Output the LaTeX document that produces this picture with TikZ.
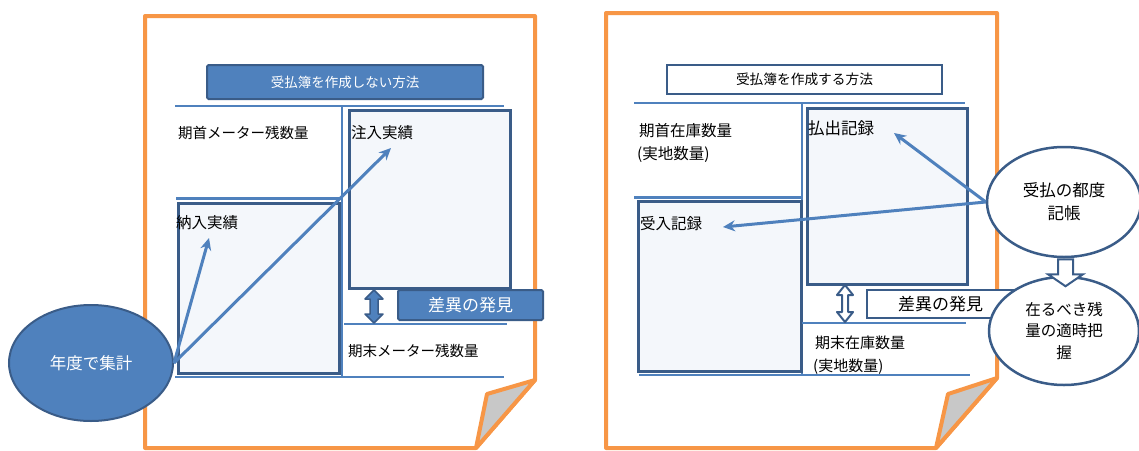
\documentclass[tikz,border=0pt]{standalone}
\usepackage{fontspec}
\setmainfont{Noto Sans CJK JP}
\usetikzlibrary{shapes.geometric,arrows.meta}
\definecolor{accent}{HTML}{4F81BD}
\definecolor{dk}{HTML}{3A5C88}
\definecolor{org}{HTML}{F79646}
\definecolor{pale}{HTML}{F4F7FB}
\definecolor{foldgray}{HTML}{C8C8C8}
\tikzset{
  page/.style={draw=org, line width=4pt, fill=white, line join=round},
  fold/.style={draw=org, line width=4pt, fill=foldgray, line join=round},
  rule/.style={draw=accent, line width=2pt},
  panel/.style={draw=dk, line width=2.5pt, fill=pale, inner sep=0pt, anchor=north west},
  bluebox/.style={draw=dk, line width=2pt, fill=accent, text=white, rounded corners=1.5pt, inner sep=0pt},
  whitebox/.style={draw=dk, line width=2.5pt, fill=white, text=black, inner sep=0pt},
  lbl/.style={anchor=west, inner sep=0pt, font=\fontsize{14.5}{17}\selectfont},
  flow/.style={draw=accent, line width=3pt, -{Stealth[length=12pt,width=11pt]}},
}
\begin{document}
\begin{tikzpicture}[x=1pt,y=-1pt]
\useasboundingbox (0,0) rectangle (1139,450);
% ---------- left page ----------
\draw[page] (145,16) -- (535,16) -- (535,380) -- (476,448) -- (145,448) -- cycle;
\draw[fold] (535,380) -- (487,394) -- (476,448) -- cycle;
\node[bluebox, minimum width=276pt, minimum height=34pt, font=\fontsize{13.5}{16}\selectfont] (t1) at (345,82) {受払簿を作成しない方法};
\draw[rule] (175,106) -- (504,106);
\draw[rule] (342,106) -- (342,377);
\node[panel, minimum width=161pt, minimum height=178pt] (inj) at (348,109) {};
\draw[rule, line width=3pt] (176,198) -- (340,198);
\node[panel, minimum width=161pt, minimum height=170pt] (nou) at (177,202) {};
\draw[rule] (175,377) -- (504,377);
\draw[rule] (344,324) -- (507,324);
\node[lbl] (l1) at (178,133) {期首メーター残数量};
\node[lbl, font=\fontsize{15.5}{18}\selectfont] (l2) at (351,133) {注入実績};
\node[lbl, font=\fontsize{15.5}{18}\selectfont] (l3) at (176,223) {納入実績};
\node[lbl] (l4) at (348,351) {期末メーター残数量};
\draw[fill=accent, draw=dk, line width=1.5pt, line join=round]
  (374,290) -- (383,299) -- (378,299) -- (378,314) -- (383,314) -- (374,323)
  -- (365,314) -- (370,314) -- (370,299) -- (365,299) -- cycle;
\node[bluebox, minimum width=145pt, minimum height=30pt, font=\fontsize{17}{20}\selectfont] (d1) at (470.5,305) {差異の発見};
\node[ellipse, draw=dk, line width=2pt, fill=accent, text=white, minimum width=164pt, minimum height=116pt, inner sep=0pt, font=\fontsize{16.5}{19}\selectfont] (e1) at (91,363) {年度で集計};
\coordinate (tip1) at (209,238);
\coordinate (tip2) at (391,148);
\draw[flow] (e1.east) -- (tip1);
\draw[flow] (e1.east) -- (tip2);
% ---------- right page ----------
\draw[page] (606,13) -- (997,13) -- (997,378) -- (936,448) -- (606,448) -- cycle;
\draw[fold] (997,378) -- (948,394) -- (936,448) -- cycle;
\node[whitebox, minimum width=275pt, minimum height=29pt, font=\fontsize{13.7}{16}\selectfont] (t2) at (804.5,79.5) {受払簿を作成する方法};
\draw[rule] (634,103) -- (965,103);
\draw[rule] (802,103) -- (802,375);
\node[panel, minimum width=160pt, minimum height=176pt] (hara) at (806,107) {};
\draw[rule, line width=3pt] (634,197) -- (802,197);
\node[panel, minimum width=163pt, minimum height=170pt] (uke) at (637,200) {};
\draw[rule] (639,375) -- (970,375);
\draw[rule] (802,323) -- (966,323);
\node[lbl, font=\fontsize{15.5}{18}\selectfont] (r1) at (639,131) {期首在庫数量};
\node[lbl, font=\fontsize{15.5}{18}\selectfont] (r1b) at (637,154) {(実地数量)};
\node[lbl, font=\fontsize{16.5}{19}\selectfont] (r2) at (808,128) {払出記録};
\node[lbl, font=\fontsize{15.5}{18}\selectfont] (r3) at (640,224) {受入記録};
\node[lbl, font=\fontsize{15}{18}\selectfont] (r4) at (815,343) {期末在庫数量};
\node[lbl, font=\fontsize{15}{18}\selectfont] (r4b) at (813,367) {(実地数量)};
\draw[fill=white, draw=dk, line width=2pt, line join=round]
  (845,285) -- (853,295) -- (848,295) -- (848,312) -- (853,312) -- (845,322)
  -- (837,312) -- (842,312) -- (842,295) -- (837,295) -- cycle;
\node[whitebox, minimum width=147pt, minimum height=28pt, font=\fontsize{17}{20}\selectfont] (d2) at (940.5,304) {差異の発見};
\node[ellipse, draw=dk, line width=2.5pt, fill=white, minimum width=154pt, minimum height=110pt, inner sep=0pt, align=center, font=\fontsize{16.5}{23}\selectfont] (c1) at (1064,202) {受払の都度\\記帳};
\node[ellipse, draw=dk, line width=2.5pt, fill=white, minimum width=150pt, minimum height=108pt, inner sep=0pt, align=center, font=\fontsize{15.5}{21.5}\selectfont] (c2) at (1064,331) {在るべき残\\量の適時把\\握};
\draw[fill=white, draw=dk, line width=2pt, line join=miter]
  (c1.south) ++(-6,1) coordinate (sa) -- ++(15,0) -- ++(0,15) -- ++(10,0) -- ++(-17.5,12) -- ++(-17.5,-12) -- ++(10,0) -- cycle;
\coordinate (tip3) at (894,133);
\coordinate (tip4) at (723,227);
\draw[flow] (c1.west) -- (tip3);
\draw[flow] (c1.west) -- (tip4);
\end{tikzpicture}
\end{document}
